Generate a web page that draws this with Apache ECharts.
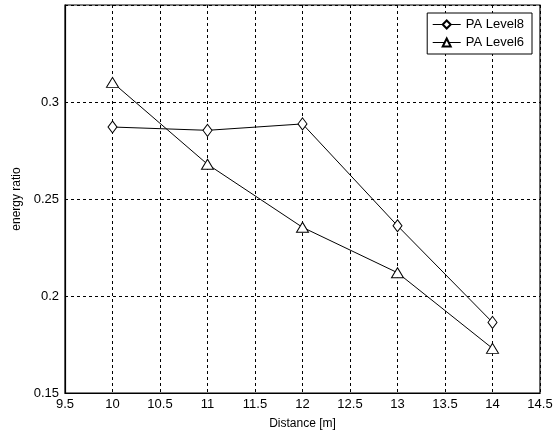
<!DOCTYPE html>
<html>
<head>
<meta charset="utf-8">
<script src="https://cdn.jsdelivr.net/npm/echarts@6/dist/echarts.min.js"></script>
<style>html,body{margin:0;padding:0;background:#fff}#c{width:560px;height:435px}</style>
</head>
<body>
<div id="c"></div>
<script>
const distances = [10, 11, 12, 13, 14];
const level8 = [0.2871, 0.2854, 0.2887, 0.2362, 0.1864];
const level6 = [0.3101, 0.2679, 0.2354, 0.2120, 0.1730];
const seriesNames = ['PA Level8', 'PA Level6'];
const xTicks = [9.5, 10, 10.5, 11, 11.5, 12, 12.5, 13, 13.5, 14, 14.5];
const yTicks = [0.15, 0.2, 0.25, 0.3];

const font = 'Liberation Sans, Arial, sans-serif';
const chart = echarts.init(document.getElementById('c'));
const mk = (arr) => distances.map((d, i) => [d, arr[i]]);
chart.setOption({
  animation: false,
  backgroundColor: '#fff',
  grid: { left: 65, right: 20, top: 5, bottom: 42, show: true, borderColor: '#000', borderWidth: 1.2 },
  legend: {
    right: 28, top: 13, orient: 'vertical',
    borderColor: '#000', borderWidth: 1, padding: [5, 8, 5, 5],
    itemWidth: 28, itemHeight: 10, itemGap: 5,
    backgroundColor: '#fff',
    lineStyle: { width: 1 },
    textStyle: { fontFamily: font, fontSize: 13, color: '#000' },
    data: seriesNames
  },
  xAxis: {
    type: 'value', min: 9.5, max: 14.5, interval: 0.5,
    name: 'Distance [m]', nameLocation: 'middle', nameGap: 25,
    nameTextStyle: { fontFamily: font, fontSize: 12, color: '#000' },
    axisLine: { show: true, lineStyle: { color: '#000', width: 1.2 } },
    axisTick: { show: false },
    axisLabel: { fontFamily: font, fontSize: 13, color: '#000', margin: 5,
      formatter: v => xTicks.includes(+v.toFixed(1)) ? String(+v.toFixed(1)) : '' },
    splitLine: { show: true, lineStyle: { color: '#000', type: [3, 3], width: 1 } }
  },
  yAxis: {
    type: 'value', min: 0.15, max: 0.35, interval: 0.05,
    name: 'energy ratio', nameLocation: 'middle', nameGap: 41,
    nameTextStyle: { fontFamily: font, fontSize: 12, color: '#000' },
    axisLine: { show: true, lineStyle: { color: '#000', width: 1.2 } },
    axisTick: { show: false },
    axisLabel: { fontFamily: font, fontSize: 13, color: '#000', margin: 6,
      formatter: v => { const r = +v.toFixed(2); return yTicks.includes(r) ? String(r) : ''; } },
    splitLine: { show: true, lineStyle: { color: '#000', type: [3, 3], width: 1 } }
  },
  series: [
    { name: seriesNames[0], type: 'line', data: mk(level8), symbol: 'diamond', symbolSize: [9, 12],
      lineStyle: { color: '#000', width: 1 }, itemStyle: { color: '#fff', borderColor: '#000', borderWidth: 1 } },
    { name: seriesNames[1], type: 'line', data: mk(level6), symbol: 'triangle', symbolSize: [12, 10],
      lineStyle: { color: '#000', width: 1 }, itemStyle: { color: '#fff', borderColor: '#000', borderWidth: 1 } }
  ]
});
</script>
</body>
</html>
